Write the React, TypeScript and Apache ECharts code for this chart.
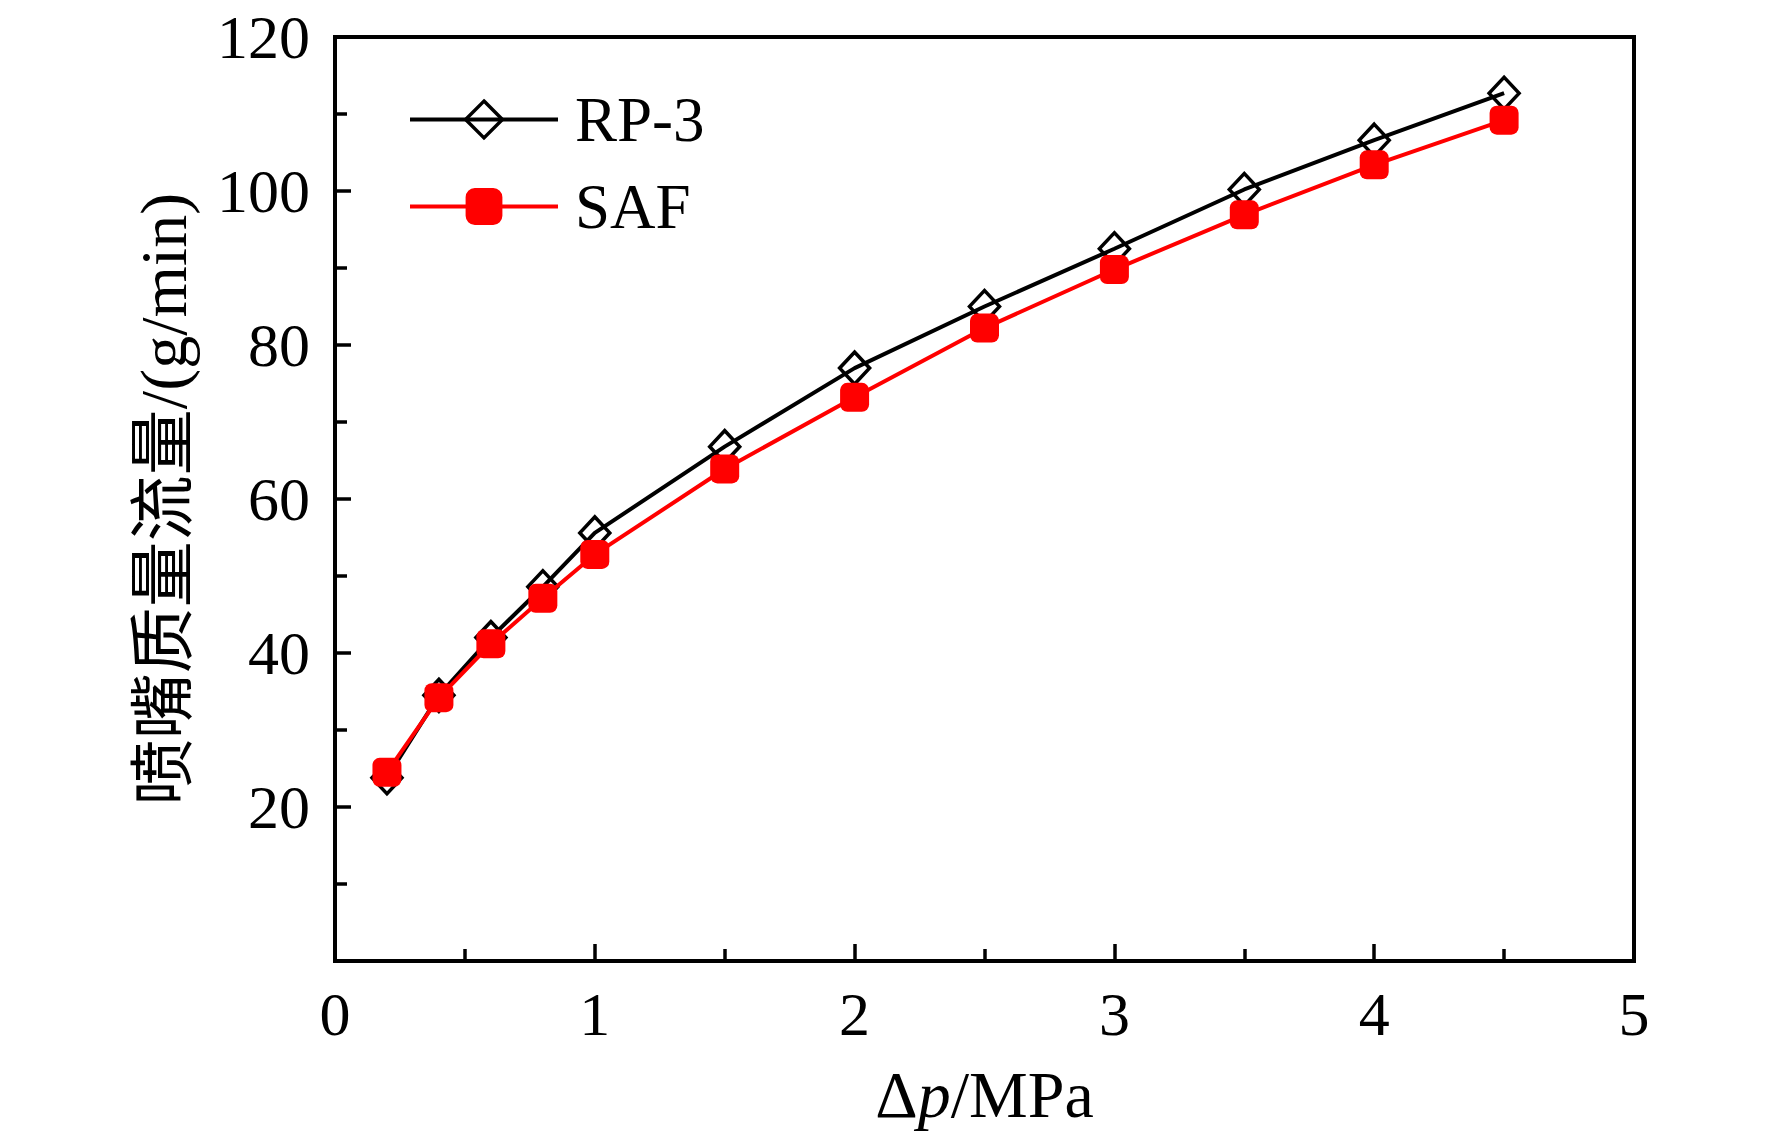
import React, { useEffect, useRef } from "react";
import * as echarts from "echarts";

const pressureDrop = [0.2, 0.4, 0.6, 0.8, 1.0, 1.5, 2.0, 2.5, 3.0, 3.5, 4.0, 4.5];
const rp3Flow = [23.8, 34.5, 42.0, 48.6, 55.6, 66.8, 77.0, 85.0, 92.5, 100.2, 106.6, 112.7];
const safFlow = [24.5, 34.2, 41.2, 47.1, 52.8, 63.9, 73.2, 82.2, 89.8, 96.9, 103.4, 109.2];
const seriesNames = ["RP-3", "SAF"];
const xAxisTitle = "{d|Δ}{i|p}{d|/MPa}";
const yAxisTitle = "喷嘴质量流量/(g/min)";

const SERIF = "'Liberation Serif', 'Times New Roman', serif";

export default function App() {
  const ref = useRef<HTMLDivElement>(null);
  useEffect(() => {
    if (!ref.current) return;
    const chart = echarts.init(ref.current, null, { renderer: "svg" });
    const option: any = {
      animation: false,
      backgroundColor: "#ffffff",
      grid: {
        left: 335,
        top: 37,
        right: 138,
        bottom: 183,
        show: true,
        borderColor: "#000",
        borderWidth: 4,
        backgroundColor: "transparent",
      },
      legend: {
        orient: "vertical",
        left: 403,
        top: 83,
        itemWidth: 148,
        itemHeight: 46,
        itemGap: 24,
        data: seriesNames,
        lineStyle: { width: 4 },
        itemStyle: { borderWidth: 3.5 },
        textStyle: {
          fontFamily: SERIF,
          fontSize: 63,
          lineHeight: 63,
          color: "#000",
          padding: [0, 0, 0, 12],
        },
      },
      xAxis: {
        type: "value",
        min: 0,
        max: 5,
        interval: 1,
        name: xAxisTitle,
        nameLocation: "middle",
        nameGap: 100,
        nameTextStyle: {
          rich: {
            d: { fontFamily: SERIF, fontSize: 66, color: "#000" },
            i: { fontFamily: SERIF, fontSize: 66, fontStyle: "italic", color: "#000" },
          },
        },
        axisLine: { show: true, lineStyle: { color: "#000", width: 4 } },
        axisTick: { show: true, inside: true, length: 17, lineStyle: { color: "#000", width: 3.5 } },
        minorTick: { show: true, splitNumber: 2, length: 12, lineStyle: { color: "#000", width: 3.5 } },
        splitLine: { show: false },
        axisLabel: {
          fontFamily: SERIF,
          fontSize: 62,
          color: "#000",
          margin: 22,
        },
      },
      yAxis: {
        type: "value",
        min: 0,
        max: 120,
        interval: 20,
        name: yAxisTitle,
        nameLocation: "middle",
        nameGap: 139,
        nameTextStyle: {
          fontFamily: "'Liberation Serif', 'Noto Sans CJK SC', serif",
          fontSize: 66,
          color: "#000",
        },
        axisLine: { show: true, lineStyle: { color: "#000", width: 4 } },
        axisTick: { show: true, inside: true, length: 16, lineStyle: { color: "#000", width: 3.5 } },
        minorTick: { show: true, splitNumber: 2, length: 12, lineStyle: { color: "#000", width: 3.5 } },
        splitLine: { show: false },
        axisLabel: {
          fontFamily: SERIF,
          fontSize: 62,
          color: "#000",
          margin: 25,
          formatter: (v: number) => (v === 0 ? "" : String(v)),
        },
      },
      series: [
        {
          name: seriesNames[0],
          type: "line",
          data: pressureDrop.map((x, i) => [x, rp3Flow[i]]),
          symbol: "diamond",
          symbolSize: [30, 32],
          lineStyle: { color: "#000", width: 4 },
          itemStyle: { color: "rgba(255,255,255,0)", borderColor: "#000", borderWidth: 3.5 },
          z: 2,
        },
        {
          name: seriesNames[1],
          type: "line",
          data: pressureDrop.map((x, i) => [x, safFlow[i]]),
          symbol: "roundRect",
          symbolSize: 29,
          lineStyle: { color: "#ff0000", width: 4 },
          itemStyle: { color: "#ff0000", borderWidth: 0 },
          z: 3,
        },
      ],
    };
    chart.setOption(option);
    return () => chart.dispose();
  }, []);
  return (
    <div
      ref={ref}
      style={{ position: "absolute", left: 0, top: 0, width: 1772, height: 1144, background: "#fff" }}
    />
  );
}
